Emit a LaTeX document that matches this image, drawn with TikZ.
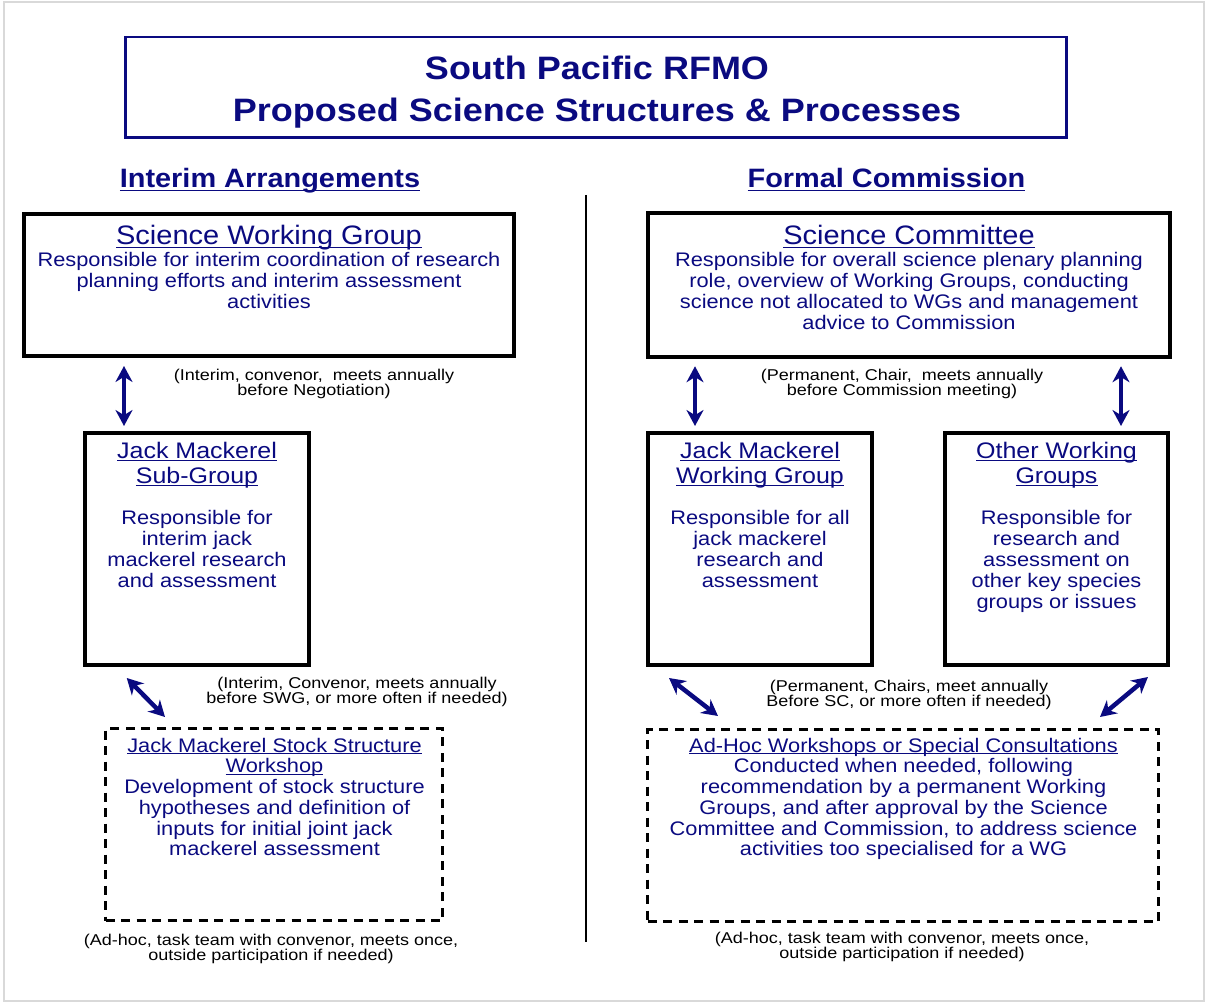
\documentclass[tikz,border=0pt]{standalone}
\usepackage{fontspec}
\setmainfont{Liberation Sans}
\usetikzlibrary{arrows.meta}
\definecolor{navy}{RGB}{10,10,128}
\newcommand{\uln}[1]{\setbox0\hbox{#1}\rlap{\rule[-0.12em]{\wd0}{0.06em}}\box0}
\newcommand{\fs}[2]{\fontsize{#1}{#2}\selectfont\lineskiplimit=-50pt\relax}
\tikzset{
  box/.style={draw, line width=4pt, inner sep=0pt},
  wsbox/.style={draw, line width=3pt, dash pattern=on 9pt off 6.5pt, inner sep=0pt},
  txt/.style={navy, align=center, inner sep=0pt, anchor=north, yscale=0.9, transform shape, font=\fs{21.8}{23.1}},
  head/.style={navy, inner sep=0pt, anchor=base, yscale=0.92, transform shape, font=\fs{29}{29}},
  note/.style={align=center, inner sep=0pt, anchor=north, yscale=0.87, transform shape, font=\fs{18}{17.4}},
  link/.style={navy, line width=4.5pt, {Stealth[length=16pt,width=17pt]}-{Stealth[length=16pt,width=17pt]}},
}
\begin{document}
\begin{tikzpicture}[x=1pt,y=-1pt]
%\draw[help lines,step=50] (0,0) grid (1208,1003);
\useasboundingbox (0,0) rectangle (1208,1003);
\draw[gray!30, line width=2pt] (4,2) rectangle (1204,1001);
\node[draw=navy, line width=2.5pt, inner sep=0pt, minimum width=941pt, minimum height=100.5pt] (ttlbox) at (596,87.5) {};
\node[txt, font=\fs{36}{46.7}\bfseries] (ttl) at (597,55.6) {South Pacific RFMO\\Proposed Science Structures \& Processes};
\node[head, font=\fs{28.9}{29}\bfseries] (lhd) at (270,188) {\uln{Interim Arrangements}};
\node[head, font=\fs{28.9}{29}\bfseries] (rhd) at (886.5,188) {\uln{Formal Commission}};
\draw[line width=2pt] (586,195) -- (586,942);
% interim
\node[box, minimum width=490pt, minimum height=142.5pt] (swg) at (269,285) {};
\node[head] (swgT) at (269,245) {\uln{Science Working Group}};
\node[txt] (swgB) at (269,252.6) {Responsible for interim coordination of research\\planning efforts and interim assessment\\activities};
\node[note] (swgN) at (314,369.3) {(Interim, convenor,\ \ meets annually\\before Negotiation)};
\node[box, minimum width=223.5pt, minimum height=232pt] (sub) at (197,549) {};
\node[txt, font=\fs{25}{27.8}] (subT) at (197,441.8) {\uln{Jack Mackerel}\\\uln{Sub-Group}};
\node[txt] (subB) at (197,510.6) {Responsible for\\interim jack\\mackerel research\\and assessment};
\node[note] (subN) at (357,677.3) {(Interim, Convenor, meets annually\\before SWG, or more often if needed)};
\node[wsbox, minimum width=337pt, minimum height=192pt] (ws) at (274,824.5) {};
\node[txt] (wsT) at (274.5,737.6) {\uln{Jack Mackerel Stock Structure}\\\uln{Workshop}\\Development of stock structure\\hypotheses and definition of\\inputs for initial joint jack\\mackerel assessment};
\node[note] (wsN) at (271,934.3) {(Ad-hoc, task team with convenor, meets once,\\outside participation if needed)};
\draw[link, shorten <=7.75pt, shorten >=5pt] ([xshift=-145pt]swg.south) -- ([xshift=-73pt]sub.north);
\draw[link] ([shift={(43.5,11)}]sub.south west) -- ([shift={(61,-10)}]ws.north west);
% formal
\node[box, minimum width=522pt, minimum height=143pt] (sc) at (909,285) {};
\node[head] (scT) at (909,245) {\uln{Science Committee}};
\node[txt] (scB) at (909,252.6) {Responsible for overall science plenary planning\\role, overview of Working Groups, conducting\\science not allocated to WGs and management\\advice to Commission};
\node[note] (scN) at (902,369.3) {(Permanent, Chair,\ \ meets annually\\before Commission meeting)};
\node[box, minimum width=224pt, minimum height=232pt] (jmwg) at (760,549) {};
\node[txt, font=\fs{25}{27.8}] (jmwgT) at (760,441.8) {\uln{Jack Mackerel}\\\uln{Working Group}};
\node[txt] (jmwgB) at (760,510.6) {Responsible for all\\jack mackerel\\research and\\assessment};
\node[box, minimum width=223pt, minimum height=232pt] (owg) at (1056.5,549) {};
\node[txt, font=\fs{25}{27.8}] (owgT) at (1056.5,441.8) {\uln{Other Working}\\\uln{Groups}};
\node[txt] (owgB) at (1056.5,510.6) {Responsible for\\research and\\assessment on\\other key species\\groups or issues};
\node[note] (wgN) at (909,680.3) {(Permanent, Chairs, meet annually\\Before SC, or more often if needed)};
\node[wsbox, minimum width=511pt, minimum height=192pt] (adh) at (903,825.5) {};
\node[txt] (adhT) at (903.5,737.6) {\uln{Ad-Hoc Workshops or Special Consultations}\\Conducted when needed, following\\recommendation by a permanent Working\\Groups, and after approval by the Science\\Committee and Commission, to address science\\activities too specialised for a WG};
\node[note] (adhN) at (902,932.3) {(Ad-hoc, task team with convenor, meets once,\\outside participation if needed)};
\draw[link, shorten <=7.75pt, shorten >=5pt] ([xshift=-214pt]sc.south) -- ([xshift=-65pt]jmwg.north);
\draw[link, shorten <=7.75pt, shorten >=5pt] ([xshift=212pt]sc.south) -- ([xshift=64.5pt]owg.north);
\draw[link] ([shift={(23,11)}]jmwg.south west) -- ([shift={(72,-12)}]adh.north west);
\draw[link] ([shift={(-22,10)}]owg.south east) -- ([shift={(-60,-11)}]adh.north east);
\end{tikzpicture}
\end{document}
